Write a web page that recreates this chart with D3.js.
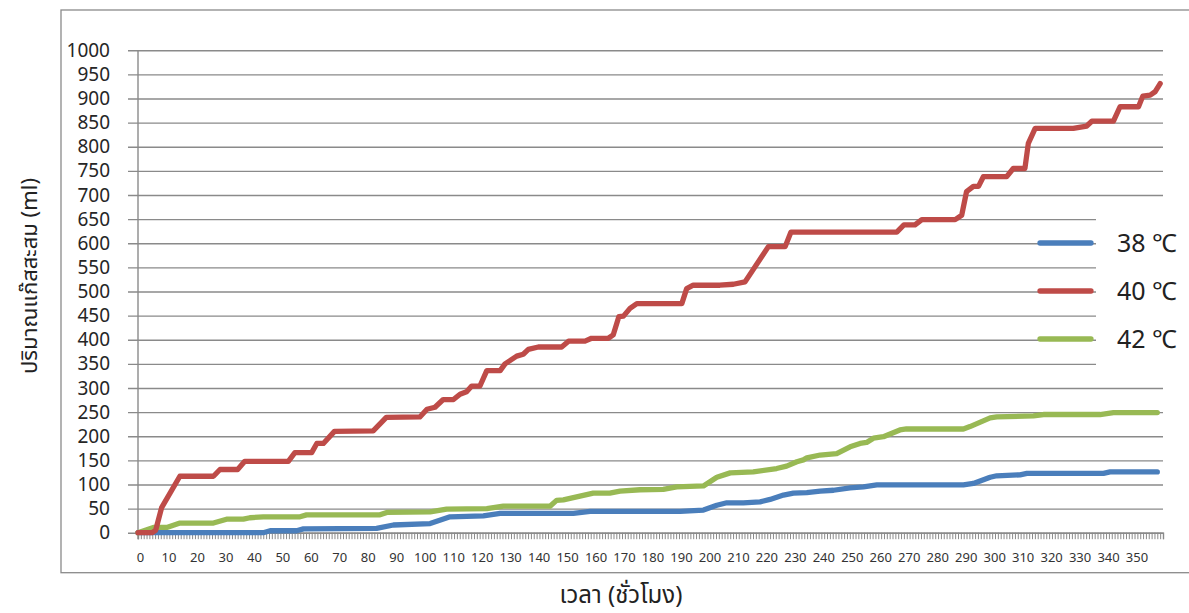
<!DOCTYPE html>
<html>
<head>
<meta charset="utf-8">
<script src="https://cdn.jsdelivr.net/npm/d3@7"></script>
<style>
  html, body { margin: 0; padding: 0; background: #fff; }
  svg { display: block; font-family: "Noto Sans Thai", "Tahoma", "Noto Sans", "DejaVu Sans", sans-serif; }
</style>
</head>
<body>
<svg id="chart" width="1189" height="613"></svg>
<script>
// ---------- data ----------
const seriesNames = ["38 \u2103", "40 \u2103", "42 \u2103"];
const seriesColors = ["#4a7ebb", "#be4b48", "#98b954"];

const hours38 = [0, 44, 46.4, 55.7, 58.1, 83.8, 89.7, 102.6, 109.6, 121.3, 127.2, 152.9, 158.8, 176.3, 190.4, 198.6, 203.3, 206.8, 212.6, 218.5, 222, 226.7, 230.2, 234.9, 239.6, 244.3, 250.1, 254.8, 259.5, 289.9, 293.4, 299.3, 301.6, 309.8, 312.2, 339.1, 341.4, 358];
const values38 = [0, 0, 4, 4, 8, 9, 16, 19, 33, 35, 40, 40, 44, 44, 44, 47, 57, 62, 62, 64, 69, 78, 82, 83, 86, 88, 93, 95, 99, 99, 102, 115, 118, 120, 123, 123, 126, 126];

const hours40 = [0, 5, 6.2, 8.3, 14.7, 26.5, 28.8, 35, 37.5, 52.8, 55.1, 61, 62.8, 65.1, 69, 82.6, 87.2, 99, 101.5, 104.3, 107.2, 110.8, 113.1, 115.4, 117.2, 120.1, 122.5, 127.2, 128.9, 133, 135.3, 137.1, 140.6, 148.8, 151.2, 157, 159.3, 165.2, 166.9, 168.9, 170.5, 172.8, 175.2, 191, 192.7, 195, 204.4, 209.1, 213.2, 221.4, 227.3, 229.3, 266.5, 269, 272.9, 275.3, 287, 289.3, 291, 293.4, 295.2, 296.9, 305.1, 307.4, 311.5, 312.7, 315.1, 328.5, 333.2, 335, 342.6, 344.9, 351.4, 352.9, 355.5, 357.2, 359];
const values40 = [0, 0, 5, 52, 117, 117, 131, 131, 148, 148, 166, 166, 185, 185, 210, 211, 239, 240, 256, 260, 276, 276, 287, 292, 304, 304, 336, 336, 350, 366, 370, 380, 385, 385, 397, 397, 403, 403, 410, 448, 449, 465, 475, 475, 506, 513, 513, 515, 520, 593, 593, 623, 623, 638, 638, 649, 649, 658, 707, 718, 718, 738, 738, 755, 755, 807, 838, 838, 843, 853, 853, 883, 883, 905, 907, 914, 931];

const hours42 = [0, 5.4, 10.1, 14.75, 26.5, 31.1, 37, 39.3, 44, 56.9, 59.2, 85, 87.4, 102.6, 108.4, 122.5, 128.3, 144.7, 147, 149.4, 159.9, 165.7, 169.3, 176.3, 184.5, 189.2, 198.6, 203.3, 208, 216.1, 224.3, 227.8, 231.4, 233.7, 234.9, 239.6, 245.4, 250.1, 253.6, 255.9, 258.3, 261.8, 267.6, 269.9, 289.9, 292.2, 299.3, 301.6, 314.5, 318, 337.9, 342.6, 358];
const values42 = [0, 11, 11, 20, 20, 28, 28, 31, 33, 33, 37, 37, 42, 43, 49, 50, 55, 55, 67, 68, 82, 82, 86, 89, 90, 95, 97, 115, 124, 126, 133, 138, 147, 151, 155, 161, 164, 178, 185, 187, 196, 199, 213, 215, 215, 220, 238, 240, 242, 245, 245, 249, 249];

const yTicks = [0, 50, 100, 150, 200, 250, 300, 350, 400, 450, 500, 550, 600, 650, 700, 750, 800, 850, 900, 950, 1000];
const xTickLabels = [0, 10, 20, 30, 40, 50, 60, 70, 80, 90, 100, 110, 120, 130, 140, 150, 160, 170, 180, 190, 200, 210, 220, 230, 240, 250, 260, 270, 280, 290, 300, 310, 320, 330, 340, 350];
const xTitle = "เวลา (ชั่วโมง)";
const yTitle = "ปริมาณแก๊สสะสม (ml)";

// ---------- layout ----------
const svg = d3.select("#chart");
const L = 138, R = 1163, T = 50.3, B = 532.7;
const x = d3.scaleLinear().domain([0, 360]).range([L, R]);
const y = d3.scaleLinear().domain([0, 1000]).range([B, T]);
const gridColor = "#8a8a8a";

// outer chart border
svg.append("rect").attr("x", 61).attr("y", 10).attr("width", 1140).attr("height", 562.7)
  .attr("fill", "#fff").attr("stroke", gridColor).attr("stroke-width", 1.3);

// horizontal gridlines (extend left past axis as outer ticks)
const grid = svg.append("g").attr("transform", `translate(${L - 10},0)`)
  .call(d3.axisRight(y).tickValues(yTicks).tickSize(R - L + 10).tickFormat(""));
grid.select(".domain").remove();
grid.selectAll("line").attr("stroke", gridColor).attr("stroke-width", 1.4);

// y labels
const yAx = svg.append("g").attr("transform", `translate(${L},0)`)
  .call(d3.axisLeft(y).tickValues(yTicks).tickSize(0).tickPadding(28).tickFormat(d3.format("d")));
yAx.select(".domain").remove();
yAx.selectAll("text").attr("font-size", 19).attr("fill", "#262626")
  .style("font-family", "'Noto Sans', 'DejaVu Sans', sans-serif");

// y axis line
svg.append("line").attr("x1", L).attr("x2", L).attr("y1", T).attr("y2", B + 6.5)
  .attr("stroke", gridColor).attr("stroke-width", 1.4);

// x axis: minor ticks every hour
const xAx = svg.append("g").attr("transform", `translate(0,${B})`)
  .call(d3.axisBottom(x).tickValues(d3.range(0, 361, 1)).tickSize(6.5).tickFormat(""));
xAx.select(".domain").attr("stroke", gridColor).attr("stroke-width", 1.4);
xAx.selectAll("line").attr("stroke", gridColor).attr("stroke-width", 1);

// x labels
const xLab = svg.append("g").attr("transform", `translate(0,${B})`)
  .call(d3.axisBottom(x).tickValues(xTickLabels).tickSize(0).tickPadding(20).tickFormat(d3.format("d")));
xLab.select(".domain").remove();
xLab.selectAll("text").attr("font-size", 13).attr("fill", "#333")
  .attr("dx", 2)
  .style("font-family", "'Noto Sans', 'DejaVu Sans', sans-serif");

// legend background (covers gridlines)
svg.append("rect").attr("x", 1096).attr("y", 206).attr("width", 93).attr("height", 170).attr("fill", "#fff");

// lines
const seriesData = [
  hours38.map((h, i) => [h, values38[i]]),
  hours40.map((h, i) => [h, values40[i]]),
  hours42.map((h, i) => [h, values42[i]])
];
const line = d3.line().x(d => x(d[0])).y(d => y(d[1]));
const drawOrder = [0, 2, 1];
drawOrder.forEach(i => {
  svg.append("path").datum(seriesData[i]).attr("d", line)
    .attr("fill", "none").attr("stroke", seriesColors[i]).attr("stroke-width", 5.3)
    .attr("stroke-linejoin", "round").attr("stroke-linecap", "round");
});

// legend
const legY = [243, 291, 339];
seriesNames.forEach((name, i) => {
  svg.append("line").attr("x1", 1040).attr("x2", 1091).attr("y1", legY[i]).attr("y2", legY[i])
    .attr("stroke", seriesColors[i]).attr("stroke-width", 5.3).attr("stroke-linecap", "round");
  svg.append("text").attr("x", 1117).attr("y", legY[i]).attr("dy", "0.35em")
    .attr("font-size", 25).attr("fill", "#222").text(name);
});

// axis titles
svg.append("text").attr("x", 621).attr("y", 603).attr("text-anchor", "middle")
  .attr("font-size", 24).attr("fill", "#222").text(xTitle);
svg.append("text").attr("transform", "translate(37,276) rotate(-90)").attr("text-anchor", "middle")
  .attr("font-size", 22).attr("fill", "#222").text(yTitle);
</script>
</body>
</html>
